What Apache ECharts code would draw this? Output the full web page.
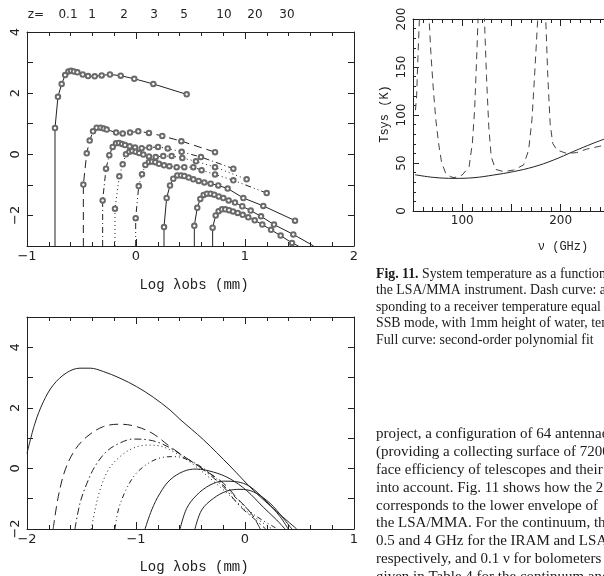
<!DOCTYPE html>
<html>
<head>
<meta charset="utf-8">
<script src="https://cdn.jsdelivr.net/npm/echarts@6/dist/echarts.min.js"></script>
<style>
  html, body { margin: 0; padding: 0; overflow: hidden; background: #fff; }
  #page { width: 800px; height: 576px; }
</style>
</head>
<body>
<div id="page"></div>
<script>
// ---- top panel: observed fluxes, log lambda_obs vs log S, one curve per redshift
var zLabels = ['z=', '0.1', '1', '2', '3', '5', '10', '20', '30'];
var topZ01 = [[-0.743,0.86],[-0.716,1.88],[-0.682,2.30],[-0.650,2.59],[-0.620,2.71],[-0.596,2.73],[-0.569,2.71],[-0.538,2.68],[-0.489,2.61],[-0.440,2.56],[-0.379,2.55],[-0.315,2.58],[-0.239,2.61],[-0.140,2.57],[-0.016,2.47],[0.159,2.30],[0.465,1.96]];
var topZ1 = [[-0.483,-0.99],[-0.452,0.03],[-0.425,0.45],[-0.394,0.75],[-0.361,0.87],[-0.324,0.87],[-0.296,0.84],[-0.269,0.81],[-0.183,0.71],[-0.122,0.68],[-0.055,0.71],[0.021,0.75],[0.119,0.70],[0.241,0.60],[0.416,0.43],[0.725,0.07]];
var topZ2 = [[-0.306,-1.51],[-0.275,-0.47],[-0.245,-0.03],[-0.214,0.24],[-0.183,0.36],[-0.156,0.37],[-0.128,0.34],[-0.101,0.30],[-0.058,0.26],[-0.009,0.22],[0.052,0.20],[0.122,0.22],[0.202,0.24],[0.291,0.19],[0.419,0.08],[0.596,-0.09],[0.893,-0.47]];
var topZ3 = [[-0.193,-1.78],[-0.153,-0.72],[-0.122,-0.33],[-0.092,0.00],[-0.061,0.08],[-0.034,0.11],[-0.003,0.08],[0.028,0.04],[0.067,-0.01],[0.119,-0.07],[0.181,-0.09],[0.250,-0.06],[0.327,-0.06],[0.425,-0.12],[0.550,-0.23],[0.725,-0.42],[1.015,-0.82]];
var topZ5 = [[-0.003,-2.09],[0.025,-1.04],[0.055,-0.65],[0.086,-0.35],[0.119,-0.25],[0.147,-0.24],[0.177,-0.26],[0.211,-0.31],[0.257,-0.36],[0.306,-0.39],[0.373,-0.42],[0.443,-0.42],[0.526,-0.42],[0.602,-0.52],[0.725,-0.66],[0.893,-0.85],[1.199,-1.27]];
var topZ10 = [[0.257,-2.38],[0.281,-1.43],[0.312,-1.02],[0.342,-0.80],[0.379,-0.69],[0.413,-0.69],[0.443,-0.71],[0.483,-0.76],[0.526,-0.82],[0.575,-0.87],[0.627,-0.92],[0.685,-0.96],[0.755,-1.02],[0.841,-1.12],[0.985,-1.43],[1.168,-1.69],[1.459,-2.17]];
var topZ20 = [[0.535,-2.34],[0.562,-1.75],[0.590,-1.46],[0.621,-1.33],[0.651,-1.29],[0.685,-1.29],[0.718,-1.32],[0.759,-1.38],[0.801,-1.43],[0.850,-1.51],[0.908,-1.58],[0.975,-1.70],[1.052,-1.84],[1.147,-2.03],[1.266,-2.30],[1.443,-2.62]];
var topZ20End = [1.63, -3];
var topZ30 = [[0.703,-2.40],[0.731,-2.00],[0.758,-1.86],[0.789,-1.80],[0.819,-1.80],[0.853,-1.83],[0.890,-1.87],[0.933,-1.92],[0.979,-1.98],[1.030,-2.06],[1.089,-2.16],[1.159,-2.30],[1.239,-2.47],[1.327,-2.66],[1.431,-2.90]];
var topZ30End = [1.49, -3];

// ---- bottom panel: model curves
var botZ01 = [[-2.0,0.50],[-1.927,1.49],[-1.85,2.20],[-1.76,2.75],[-1.636,3.16],[-1.514,3.31],[-1.42,3.31],[-1.30,3.20],[-1.147,2.98],[-0.994,2.70],[-0.841,2.35],[-0.688,1.93],[-0.596,1.62],[-0.382,0.95],[-0.138,0.08],[0.076,-0.72],[0.29,-1.42],[0.474,-2.0]];
var botZ1 = [[-1.76,-2.0],[-1.713,-0.93],[-1.65,-0.05],[-1.56,0.61],[-1.45,1.05],[-1.30,1.38],[-1.147,1.46],[-0.994,1.38],[-0.841,1.14],[-0.688,0.72],[-0.52,0.30],[-0.385,-0.02],[-0.2,-0.48],[-0.073,-0.98],[0.06,-1.5],[0.14,-2.0]];
var botZ2 = [[-1.56,-2.0],[-1.514,-1.15],[-1.45,-0.49],[-1.376,0.07],[-1.27,0.56],[-1.147,0.84],[-1.025,0.97],[-0.90,0.95],[-0.78,0.84],[-0.66,0.62],[-0.52,0.30],[-0.38,-0.05],[-0.2,-0.6],[-0.046,-1.25],[0.08,-1.65],[0.19,-2.0]];
var botZ3 = [[-1.41,-2.0],[-1.376,-1.37],[-1.33,-0.71],[-1.254,-0.05],[-1.147,0.39],[-1.025,0.67],[-0.90,0.77],[-0.78,0.74],[-0.66,0.56],[-0.5,0.20],[-0.29,-0.42],[-0.107,-1.0],[0.046,-1.5],[0.25,-2.0]];
var botZ5 = [[-1.193,-2.0],[-1.162,-1.37],[-1.10,-0.77],[-1.009,-0.21],[-0.887,0.17],[-0.764,0.36],[-0.642,0.39],[-0.52,0.28],[-0.38,0.0],[-0.23,-0.45],[-0.046,-1.1],[0.092,-1.55],[0.30,-2.0]];
var botZ10 = [[-0.917,-2.0],[-0.856,-1.37],[-0.78,-0.82],[-0.688,-0.38],[-0.566,-0.10],[-0.45,-0.02],[-0.29,-0.12],[-0.138,-0.34],[0.015,-0.73],[0.168,-1.28],[0.29,-1.70],[0.367,-2.0]];
var botZ20 = [[-0.596,-2.0],[-0.535,-1.32],[-0.443,-0.88],[-0.321,-0.55],[-0.198,-0.42],[-0.076,-0.44],[0.046,-0.60],[0.20,-1.1],[0.321,-1.59],[0.397,-2.0]];
var botZ30 = [[-0.459,-2.0],[-0.397,-1.37],[-0.29,-0.99],[-0.168,-0.75],[-0.046,-0.69],[0.076,-0.77],[0.23,-1.15],[0.352,-1.65],[0.43,-2.0]];

// ---- right panel: Tsys (K) vs frequency (GHz)
var tsysAtm = [[52.5,105],[53.7,120],[55,160],[56.4,197],[61,300],[66.5,197],[68.2,164],[70.5,129],[73.2,95],[76,70.5],[79,51],[83.3,39],[88.4,35.7],[91.7,34.7],[100,37.5],[107,46],[110.3,70.5],[112.6,105],[114.6,157],[116,197],[119,300],[122.7,197],[124.7,140],[127,88],[129.5,56.6],[133.8,43.4],[142.2,41],[152.3,42.7],[162.4,48],[167.5,63.5],[170.9,95],[173.5,140],[176.6,197],[181,300],[185,197],[187,140],[189.4,91],[192,70.5],[196.2,63.5],[206.2,60],[216.4,60.8],[226.5,64.5],[240,67.5],[246,69.5]];
var tsysFit = [[52,37.8],[71,35],[91.7,34],[112,34.7],[132,37.5],[152,41],[172.7,46],[192.6,53],[213,62],[233,70.5],[246,75.5]];

// ---- texts
var captionLines = [
  '{b|Fig. 11.} System temperature as a function of',
  'the LSA/MMA instrument. Dash curve: atm',
  'sponding to a receiver temperature equal to',
  'SSB mode, with 1mm height of water, temper',
  'Full curve: second-order polynomial fit'
];
var bodyLines = [
  'project, a configuration of 64 antennae with',
  '(providing a collecting surface of 7200 m',
  'face efficiency of telescopes and their',
  'into account. Fig. 11 shows how the 2',
  'corresponds to the lower envelope of',
  'the LSA/MMA. For the continuum, the',
  '0.5 and 4 GHz for the IRAM and LSA',
  'respectively, and 0.1 \u03bd for bolometers',
  'given in Table 4 for the continuum and'
];

var INK = '#222';
var TOP_YMIN = -3;

function minus(v) { return String(v).replace('-', '\u2212'); }

function xPair(grid, min, max, interval, split, fmt, size) {
  var base = {
    type: 'value', gridIndex: grid, min: min, max: max, interval: interval,
    axisLine: { show: true, onZero: false, lineStyle: { color: INK, width: 1 } },
    axisTick: { show: true, inside: true, length: 7, lineStyle: { color: INK } },
    minorTick: { show: true, splitNumber: split, length: 4, lineStyle: { color: INK } },
    splitLine: { show: false }, minorSplitLine: { show: false }
  };
  return [
    Object.assign({}, base, { position: 'bottom',
      axisLabel: { margin: 4, color: INK, fontFamily: 'DejaVu Sans', fontSize: size, formatter: fmt } }),
    Object.assign({}, base, { position: 'top', axisLabel: { show: false } })
  ];
}
function yPair(grid, min, max, interval, split, fmt, size) {
  var base = {
    type: 'value', gridIndex: grid, min: min, max: max, interval: interval,
    axisLine: { show: true, onZero: false, lineStyle: { color: INK, width: 1 } },
    axisTick: { show: true, inside: true, length: 6, lineStyle: { color: INK } },
    minorTick: { show: split > 0, splitNumber: split || 5, length: 3, lineStyle: { color: INK } },
    splitLine: { show: false }, minorSplitLine: { show: false }
  };
  return [
    Object.assign({}, base, { position: 'left',
      axisLabel: { margin: 5, rotate: 90, color: INK, fontFamily: 'DejaVu Sans', fontSize: size, formatter: fmt } }),
    Object.assign({}, base, { position: 'right', axisLabel: { show: false } })
  ];
}
function evenOnly(v) { return v % 2 === 0 ? minus(v) : ''; }

function obsSeries(pts, dash, endPt) {
  var data = [{ value: [pts[0][0], TOP_YMIN], symbol: 'none' }];
  pts.forEach(function (p) { data.push({ value: p }); });
  if (endPt) data.push({ value: endPt, symbol: 'none' });
  return {
    type: 'line', xAxisIndex: 0, yAxisIndex: 0, data: data,
    symbol: 'emptyCircle', symbolSize: 4.5, showAllSymbol: true,
    lineStyle: { color: INK, width: 1, type: dash },
    itemStyle: { color: '#6a6a6a', borderColor: '#6a6a6a', borderWidth: 0.7 },
    silent: true
  };
}
function modelSeries(pts, dash) {
  return {
    type: 'line', xAxisIndex: 2, yAxisIndex: 2, data: pts, symbol: 'none',
    smooth: 0.35, lineStyle: { color: INK, width: 1, type: dash }, silent: true
  };
}

var chart = echarts.init(document.getElementById('page'), null, { renderer: 'canvas' });

var graphics = [];
var zX = [36, 68, 92, 124, 154, 184, 224, 255, 287];
zLabels.forEach(function (t, i) {
  graphics.push({ type: 'text', x: zX[i], y: 15,
    style: { text: t, align: 'center', verticalAlign: 'middle', fill: INK, font: '12px "DejaVu Sans"' } });
});
graphics.push({ type: 'text', x: 194, y: 285,
  style: { text: 'Log \u03bbobs (mm)', align: 'center', verticalAlign: 'middle', fill: INK, font: '14px "Liberation Mono"' } });
graphics.push({ type: 'text', x: 194, y: 567,
  style: { text: 'Log \u03bbobs (mm)', align: 'center', verticalAlign: 'middle', fill: INK, font: '14px "Liberation Mono"' } });
graphics.push({ type: 'text', x: 563, y: 247,
  style: { text: '\u03bd (GHz)', align: 'center', verticalAlign: 'middle', fill: INK, font: '12px "Liberation Mono"' } });
graphics.push({ type: 'text', x: 385, y: 114, rotation: Math.PI / 2,
  style: { text: 'Tsys (K)', align: 'center', verticalAlign: 'middle', fill: INK, font: '12px "Liberation Mono"' } });

var capY = [274.5, 290.5, 307, 323.5, 340];
captionLines.forEach(function (t, i) {
  graphics.push({ type: 'text', x: 376, y: capY[i],
    style: { text: t, align: 'left', verticalAlign: 'middle', fill: '#1a1a1a',
      font: '13.8px "Liberation Serif"',
      rich: { b: { fontWeight: 'bold', fontSize: 13.8, fontFamily: 'Liberation Serif', fill: '#1a1a1a' } } } });
});
var bodyY = [434, 452, 470, 488, 506, 523.5, 541.5, 559.5, 577];
bodyLines.forEach(function (t, i) {
  graphics.push({ type: 'text', x: 376, y: bodyY[i],
    style: { text: t, align: 'left', verticalAlign: 'middle', fill: '#1a1a1a', font: '15px "Liberation Serif"' } });
});

chart.setOption({
  animation: false,
  backgroundColor: '#fff',
  grid: [
    { left: 27, top: 32, width: 327, height: 214 },
    { left: 27, top: 317, width: 327, height: 212 },
    { left: 413, top: 19, width: 246, height: 192 }
  ],
  xAxis: [].concat(
    xPair(0, -1, 2, 1, 5, minus, 13),
    xPair(1, -2, 1, 1, 5, minus, 13),
    xPair(2, 50, 300, 50, 5, function (v) { return v % 100 === 0 ? String(v) : ''; }, 12)
  ),
  yAxis: [].concat(
    yPair(0, -3, 4, 1, 0, evenOnly, 13),
    yPair(1, -2, 5, 1, 0, evenOnly, 13),
    yPair(2, 0, 200, 50, 5, function (v) { return String(v); }, 12)
  ),
  graphic: graphics,
  series: [
    obsSeries(topZ01, 'solid'),
    obsSeries(topZ1, [8, 5]),
    obsSeries(topZ2, [6, 3, 1, 3]),
    obsSeries(topZ3, [1, 3]),
    obsSeries(topZ5, [6, 3, 1, 3, 1, 3]),
    obsSeries(topZ10, 'solid'),
    obsSeries(topZ20, 'solid', topZ20End),
    obsSeries(topZ30, 'solid', topZ30End),
    modelSeries(botZ01, 'solid'),
    modelSeries(botZ1, [9, 5]),
    modelSeries(botZ2, [7, 3, 1.5, 3]),
    modelSeries(botZ3, [1, 3]),
    modelSeries(botZ5, [5, 3, 1, 3, 1, 3]),
    modelSeries(botZ10, 'solid'),
    modelSeries(botZ20, 'solid'),
    modelSeries(botZ30, 'solid'),
    { type: 'line', xAxisIndex: 4, yAxisIndex: 4, data: tsysAtm, symbol: 'none',
      lineStyle: { color: '#444', width: 1, type: [7, 5] }, silent: true },
    { type: 'line', xAxisIndex: 4, yAxisIndex: 4, data: tsysFit, symbol: 'none', smooth: 0.4,
      lineStyle: { color: INK, width: 1 }, silent: true }
  ]
});
</script>
</body>
</html>
